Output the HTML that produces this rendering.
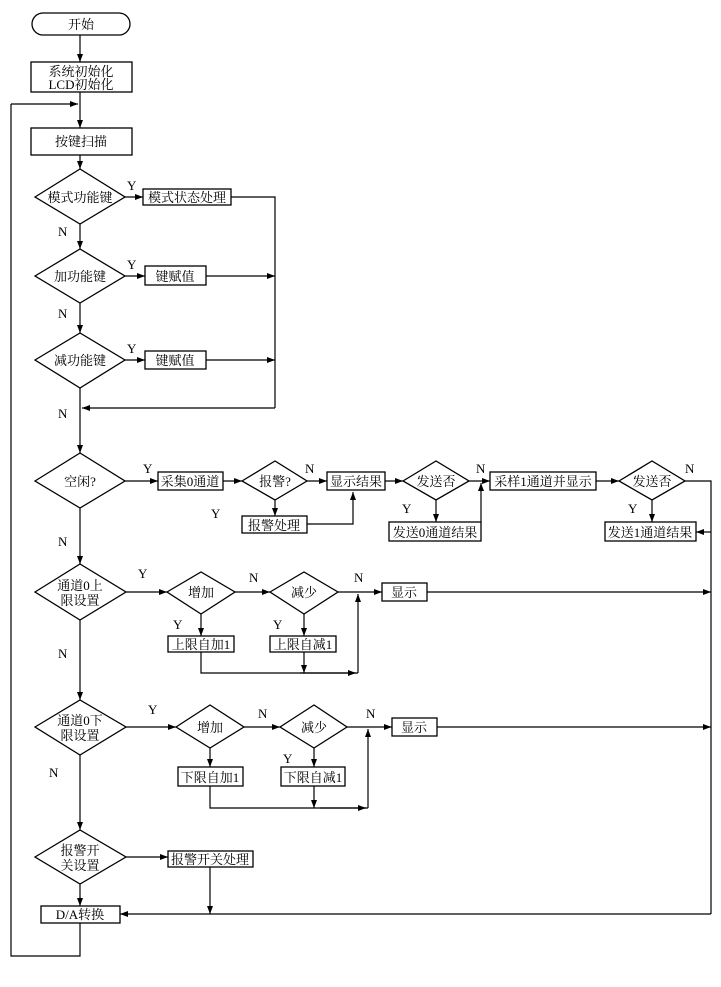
<!DOCTYPE html>
<html><head><meta charset="utf-8"><style>
html,body{margin:0;padding:0;background:#fff}
svg text{font-family:"Liberation Serif","Noto Serif CJK SC","Noto Sans CJK SC",serif;font-size:13px;fill:#000}
</style></head><body>
<svg width="721" height="982" viewBox="0 0 721 982" xmlns="http://www.w3.org/2000/svg">
<defs><marker id="a" markerWidth="8" markerHeight="6" refX="8" refY="3" orient="auto" markerUnits="userSpaceOnUse"><path d="M0,0 L8,3 L0,6 z" fill="#000"/></marker></defs>
<g fill="none" stroke="#000" stroke-width="1.3">
<!-- boxes -->
<rect x="32" y="13" width="98" height="22" rx="11"/>
<rect x="31" y="62" width="101" height="30"/>
<rect x="31" y="128" width="101" height="27"/>
<polygon points="35,197 80,169 125,197 80,224"/>
<rect x="143" y="189" width="88" height="16"/>
<polygon points="35,276 80,249 125,276 80,303"/>
<rect x="145" y="266" width="61" height="19"/>
<polygon points="35,360 80,333 125,360 80,388"/>
<rect x="145" y="351" width="61" height="18"/>
<!-- row 2 -->
<polygon points="35,481 80,453 125,481 80,508"/>
<rect x="158" y="472" width="65" height="18"/>
<polygon points="242,481 275,461 307,481 275,500"/>
<rect x="327" y="472" width="58" height="18"/>
<rect x="242" y="516" width="65" height="17"/>
<polygon points="403,481 436,461 469,481 436,500"/>
<rect x="389" y="522" width="92" height="19"/>
<rect x="490" y="472" width="106" height="18"/>
<polygon points="619,481 652,461 685,481 652,500"/>
<rect x="605" y="522" width="91" height="19"/>
<!-- row 3 -->
<polygon points="35,592 80,564 126,592 80,620"/>
<polygon points="167,592 201,572 235,592 201,614"/>
<polygon points="270,592 304,572 338,592 304,614"/>
<rect x="382" y="583" width="45" height="18"/>
<rect x="168" y="636" width="66" height="16"/>
<rect x="270" y="636" width="66" height="16"/>
<!-- row 4 -->
<polygon points="35,727 80,700 126,727 80,755"/>
<polygon points="176,727 210,705 244,727 210,748"/>
<polygon points="280,727 314,705 347,727 314,748"/>
<rect x="392" y="718" width="45" height="18"/>
<rect x="178" y="767" width="65" height="19"/>
<rect x="281" y="767" width="64" height="19"/>
<!-- row 5 -->
<polygon points="35,857 80,830 126,857 80,884"/>
<rect x="168" y="851" width="85" height="16"/>
<rect x="41" y="906" width="79" height="17"/>
</g>
<g fill="none" stroke="#000" stroke-width="1.2">
<line x1="80" y1="35" x2="80" y2="62" marker-end="url(#a)"/>
<line x1="80" y1="92" x2="80" y2="128" marker-end="url(#a)"/>
<line x1="11" y1="104" x2="78" y2="104" marker-end="url(#a)"/>
<line x1="80" y1="155" x2="80" y2="169" marker-end="url(#a)"/>
<line x1="125" y1="197" x2="143" y2="197" marker-end="url(#a)"/>
<polyline points="231,197 275,197 275,408"/>
<line x1="80" y1="224" x2="80" y2="249" marker-end="url(#a)"/>
<line x1="125" y1="276" x2="145" y2="276" marker-end="url(#a)"/>
<line x1="206" y1="276" x2="275" y2="276" marker-end="url(#a)"/>
<line x1="80" y1="303" x2="80" y2="333" marker-end="url(#a)"/>
<line x1="125" y1="360" x2="145" y2="360" marker-end="url(#a)"/>
<line x1="206" y1="360" x2="275" y2="360" marker-end="url(#a)"/>
<line x1="275" y1="408" x2="82" y2="408" marker-end="url(#a)"/>
<line x1="80" y1="388" x2="80" y2="453" marker-end="url(#a)"/>
<!-- row 2 -->
<line x1="125" y1="481" x2="158" y2="481" marker-end="url(#a)"/>
<line x1="223" y1="481" x2="242" y2="481" marker-end="url(#a)"/>
<line x1="307" y1="481" x2="327" y2="481" marker-end="url(#a)"/>
<line x1="275" y1="500" x2="275" y2="516" marker-end="url(#a)"/>
<polyline points="307,524 353,524 353,492" marker-end="url(#a)"/>
<line x1="385" y1="481" x2="403" y2="481" marker-end="url(#a)"/>
<line x1="436" y1="500" x2="436" y2="522" marker-end="url(#a)"/>
<line x1="469" y1="481" x2="490" y2="481" marker-end="url(#a)"/>
<line x1="481" y1="522" x2="481" y2="483" marker-end="url(#a)"/>
<line x1="596" y1="481" x2="619" y2="481" marker-end="url(#a)"/>
<line x1="652" y1="500" x2="652" y2="522" marker-end="url(#a)"/>
<polyline points="685,481 711,481 711,914"/>
<line x1="711" y1="532" x2="696" y2="532" marker-end="url(#a)"/>
<line x1="80" y1="508" x2="80" y2="564" marker-end="url(#a)"/>
<!-- row 3 -->
<line x1="126" y1="592" x2="167" y2="592" marker-end="url(#a)"/>
<line x1="235" y1="592" x2="270" y2="592" marker-end="url(#a)"/>
<line x1="338" y1="592" x2="382" y2="592" marker-end="url(#a)"/>
<line x1="201" y1="614" x2="201" y2="636" marker-end="url(#a)"/>
<line x1="304" y1="614" x2="304" y2="636" marker-end="url(#a)"/>
<polyline points="201,652 201,673 358,673"/>
<line x1="304" y1="652" x2="304" y2="673" marker-end="url(#a)"/>
<line x1="300" y1="673" x2="356" y2="673" marker-end="url(#a)"/>
<line x1="358" y1="673" x2="358" y2="594" marker-end="url(#a)"/>
<line x1="427" y1="592" x2="711" y2="592" marker-end="url(#a)"/>
<line x1="80" y1="620" x2="80" y2="700" marker-end="url(#a)"/>
<!-- row 4 -->
<line x1="126" y1="727" x2="176" y2="727" marker-end="url(#a)"/>
<line x1="244" y1="727" x2="280" y2="727" marker-end="url(#a)"/>
<line x1="347" y1="727" x2="392" y2="727" marker-end="url(#a)"/>
<line x1="210" y1="748" x2="210" y2="767" marker-end="url(#a)"/>
<line x1="314" y1="748" x2="314" y2="767" marker-end="url(#a)"/>
<polyline points="210,786 210,808 368,808"/>
<line x1="314" y1="786" x2="314" y2="808" marker-end="url(#a)"/>
<line x1="320" y1="808" x2="366" y2="808" marker-end="url(#a)"/>
<line x1="368" y1="808" x2="368" y2="729" marker-end="url(#a)"/>
<line x1="437" y1="727" x2="711" y2="727" marker-end="url(#a)"/>
<line x1="80" y1="755" x2="80" y2="830" marker-end="url(#a)"/>
<!-- row 5 -->
<line x1="126" y1="857" x2="168" y2="857" marker-end="url(#a)"/>
<line x1="210" y1="867" x2="210" y2="914" marker-end="url(#a)"/>
<line x1="80" y1="884" x2="80" y2="906" marker-end="url(#a)"/>
<line x1="711" y1="914" x2="120" y2="914" marker-end="url(#a)"/>
<polyline points="80,923 80,956 11,956 11,104"/>
</g>
<g text-anchor="middle">
<text x="81" y="29">开始</text>
<text x="81" y="76">系统初始化</text>
<text x="81" y="89">LCD初始化</text>
<text x="81" y="146">按键扫描</text>
<text x="80" y="202">模式功能键</text>
<text x="187" y="202">模式状态处理</text>
<text x="80" y="281">加功能键</text>
<text x="175" y="281">键赋值</text>
<text x="80" y="365">减功能键</text>
<text x="175" y="365">键赋值</text>
<text x="80" y="486">空闲?</text>
<text x="190" y="486">采集0通道</text>
<text x="275" y="486">报警?</text>
<text x="356" y="486">显示结果</text>
<text x="274" y="530">报警处理</text>
<text x="436" y="486">发送否</text>
<text x="435" y="537">发送0通道结果</text>
<text x="543" y="486">采样1通道并显示</text>
<text x="652" y="486">发送否</text>
<text x="650" y="537">发送1通道结果</text>
<text x="80" y="590">通道0上</text>
<text x="80" y="605">限设置</text>
<text x="201" y="597">增加</text>
<text x="304" y="597">减少</text>
<text x="404" y="597">显示</text>
<text x="201" y="649">上限自加1</text>
<text x="303" y="649">上限自减1</text>
<text x="80" y="725">通道0下</text>
<text x="80" y="740">限设置</text>
<text x="210" y="732">增加</text>
<text x="314" y="732">减少</text>
<text x="414" y="732">显示</text>
<text x="210" y="782">下限自加1</text>
<text x="313" y="782">下限自减1</text>
<text x="80" y="855">报警开</text>
<text x="80" y="870">关设置</text>
<text x="210" y="864">报警开关处理</text>
<text x="80" y="919">D/A转换</text>
</g>
<g font-size="12">
<text x="127" y="190">Y</text><text x="58" y="236">N</text>
<text x="127" y="269">Y</text><text x="58" y="318">N</text>
<text x="127" y="353">Y</text><text x="58" y="418">N</text>
<text x="143" y="473">Y</text><text x="305" y="473">N</text><text x="211" y="518">Y</text>
<text x="476" y="473">N</text><text x="402" y="513">Y</text>
<text x="685" y="473">N</text><text x="628" y="513">Y</text>
<text x="58" y="546">N</text>
<text x="138" y="578">Y</text><text x="249" y="582">N</text><text x="354" y="582">N</text>
<text x="173" y="629">Y</text><text x="273" y="629">Y</text>
<text x="58" y="658">N</text>
<text x="148" y="714">Y</text><text x="258" y="718">N</text><text x="366" y="718">N</text>
<text x="283" y="763">Y</text>
<text x="49" y="777">N</text>
</g>
</svg>
</body></html>
